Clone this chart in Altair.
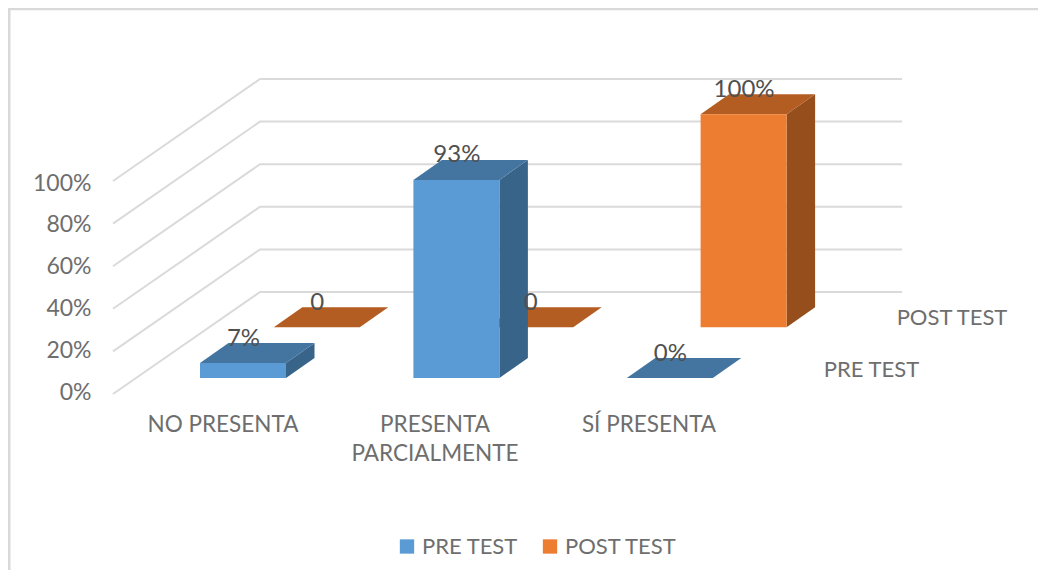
import altair as alt
import pandas as pd

categories = ["NO PRESENTA", "PRESENTA\nPARCIALMENTE", "SÍ PRESENTA"]
pre_test = [7, 93, 0]
post_test = [0, 0, 100]
pre_labels = ["7%", "93%", "0%"]
post_labels = ["0", "0", "100%"]
series_names = ["PRE TEST", "POST TEST"]
ticks = [0, 20, 40, 60, 80, 100]

W, H = 1030, 562
FONT = "Lato"
GREY = "#6E6E6E"
DARK = "#505050"
GRID = "#DADADA"

# simple oblique projection, in page pixels
PX_PER_PCT = 2.13
BAR_W = 86
CAT_STEP = 213.4
BAR_DX, BAR_DY = 28.5, 20
SERIES = {
    "PRE TEST": dict(x0=200.0, base=378.0, front="#5B9BD5", top="#4475A0", side="#396489",
                     values=pre_test, labels=pre_labels),
    "POST TEST": dict(x0=273.8, base=327.3, front="#ED7D31", top="#B35D22", side="#964F1C",
                      values=post_test, labels=post_labels),
}


def to_y(page_y):
    return (392 - page_y) / 2.09


def to_x(page_x):
    return page_x - 8


X = alt.Scale(domain=[0, W], range=[0, W], nice=False, zero=False)
Y = alt.Scale(domain=[to_y(8 + H), to_y(8)], nice=False, zero=False)
x_enc = alt.X("x:Q", scale=X, axis=None)
y_plain = alt.Y("y:Q", scale=Y)

layers = []

# gridlines, carrying the real y axis for the labels
rows = []
for t in ticks:
    front_y = 394 - t * PX_PER_PCT
    rows += [
        dict(t=t, o=0, x=to_x(113), y=to_y(front_y)),
        dict(t=t, o=1, x=to_x(260), y=to_y(front_y - 102)),
        dict(t=t, o=2, x=to_x(902), y=to_y(front_y - 102)),
    ]
layers.append(alt.Chart(pd.DataFrame(rows)).mark_line(color=GRID, strokeWidth=2).encode(
    x=x_enc,
    y=alt.Y("y:Q", scale=Y, axis=alt.Axis(
        values=[float(t) for t in ticks], labelExpr="datum.value + '%'", grid=False, domain=False, ticks=False,
        labelPadding=0, offset=-83, labelFont=FONT, labelFontSize=23, labelColor=GREY, title=None,
        labelOverlap=False, labelBound=False, labelFlush=False)),
    detail="t:N", order="o:Q"))

# frame (left and top edges only)
frame = pd.DataFrame({"x": [to_x(9), to_x(9), to_x(1038)], "y": [to_y(570), to_y(8.7), to_y(8.7)], "o": [0, 1, 2]})
layers.append(alt.Chart(frame).mark_line(color="#D9D9D9", strokeWidth=3).encode(
    x=x_enc, y=y_plain, order="o:Q"))


def faces(name):
    s = SERIES[name]
    tops, sides, fronts, texts = [], [], [], []
    for i, (v, lab) in enumerate(zip(s["values"], s["labels"])):
        x0 = s["x0"] + i * CAT_STEP
        x1 = x0 + BAR_W
        bot = s["base"]
        top = bot - v * PX_PER_PCT
        tops += [
            dict(c=i, y=to_y(top), x=to_x(x0), x2=to_x(x1)),
            dict(c=i, y=to_y(top - BAR_DY), x=to_x(x0 + BAR_DX), x2=to_x(x1 + BAR_DX)),
        ]
        if v > 0:
            sides += [
                dict(c=i, x=to_x(x1), y=to_y(top), y2=to_y(bot)),
                dict(c=i, x=to_x(x1 + BAR_DX), y=to_y(top - BAR_DY), y2=to_y(bot - BAR_DY)),
            ]
            fronts.append(dict(c=i, x=to_x(x0), x2=to_x(x1), y=to_y(top), y2=to_y(bot), series=name))
        texts.append(dict(x=to_x(x0 + BAR_W / 2 + 0.5), y=to_y(top - BAR_DY - 4.5), label=lab))
    return s, tops, sides, fronts, texts


label_layers = []
for name in ["POST TEST", "PRE TEST"]:
    s, tops, sides, fronts, texts = faces(name)
    layers.append(alt.Chart(pd.DataFrame(sides)).mark_area(color=s["side"]).encode(
        x=x_enc, y=y_plain, y2="y2:Q", detail="c:N"))
    layers.append(alt.Chart(pd.DataFrame(tops)).mark_area(color=s["top"], orient="horizontal").encode(
        y=y_plain, x=x_enc, x2="x2:Q", detail="c:N"))
    layers.append(alt.Chart(pd.DataFrame(fronts)).mark_rect().encode(
        x=x_enc, x2="x2:Q", y=y_plain, y2="y2:Q",
        color=alt.Color("series:N",
                        scale=alt.Scale(domain=series_names,
                                        range=[SERIES[n]["front"] for n in series_names]),
                        legend=alt.Legend(
                            orient="none", legendX=388, legendY=527.5, direction="horizontal", title=None,
                            symbolType="square", symbolSize=205, symbolStrokeWidth=0, labelFont=FONT,
                            labelFontSize=22, labelColor=GREY, columnPadding=21, labelOffset=4))))
    label_layers.append(alt.Chart(pd.DataFrame(texts)).mark_text(
        font=FONT, fontSize=24, color=DARK, align="center", baseline="middle").encode(
        x=x_enc, y=y_plain, text="label:N"))
layers += label_layers

# category labels
cat_centers = [223, 435, 649]
cat_rows = []
for c, label in zip(cat_centers, categories):
    for j, part in enumerate(label.split("\n")):
        cat_rows.append(dict(x=to_x(c), y=to_y(425 + j * 29), label=part))
layers.append(alt.Chart(pd.DataFrame(cat_rows)).mark_text(
    font=FONT, fontSize=22.5, color=GREY, align="center", baseline="middle").encode(
    x=x_enc, y=y_plain, text="label:N"))

# depth-axis labels
depth = pd.DataFrame({"x": [to_x(871.5), to_x(952)], "y": [to_y(370), to_y(318)], "label": series_names})
layers.append(alt.Chart(depth).mark_text(
    font=FONT, fontSize=22, color=GREY, align="center", baseline="middle").encode(
    x=x_enc, y=y_plain, text="label:N"))

chart = alt.layer(*layers).properties(
    width=W, height=H, autosize=alt.AutoSizeParams(type="none"), padding=0, background="white"
).configure_view(stroke=None)

chart.save("out.html", embed_options={"renderer": "svg", "actions": False})
